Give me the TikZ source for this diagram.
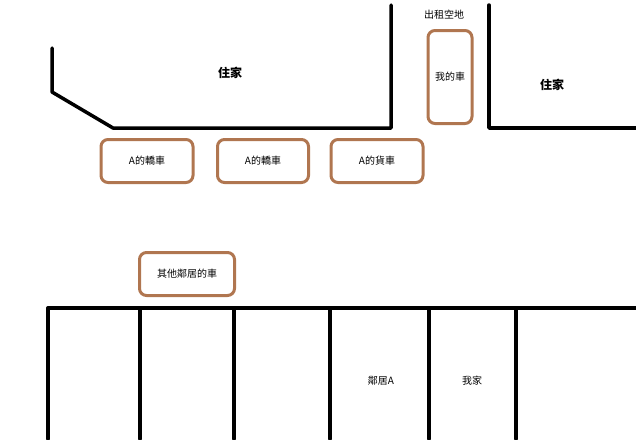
\documentclass[tikz,border=0pt]{standalone}
\usepackage{fontspec}
\setmainfont{Noto Sans CJK TC}
\definecolor{brn}{RGB}{176,118,80}
\begin{document}
\begin{tikzpicture}[x=1pt,y=-1pt,
 wall/.style={line width=3.5pt,line cap=round,line join=round},
 car/.style={draw=brn,line width=3pt,rounded corners=7pt,font=\fontsize{10}{12}\selectfont},
 lbl/.style={font=\fontsize{10}{12}\selectfont}]
\useasboundingbox (0,0) rectangle (636,439);
\draw[wall] (52,48) -- (52,92) -- (113,128) -- (391,128) -- (391,5);
\draw[wall] (489,5) -- (489,128) -- (636,128);
\draw[wall] (48,308) -- (636,308);
\foreach \x in {48,140,234,330,429,516} \draw[wall] (\x,308) -- (\x,439);
\node[font=\bfseries\fontsize{12}{14}\selectfont] (h1) at (230,73) {住家};
\node[font=\bfseries\fontsize{12}{14}\selectfont] (h2) at (552,85) {住家};
\node[lbl] (lot) at (444,15) {出租空地};
\node[car,minimum width=44pt,minimum height=93pt] (my) at (450,77) {我的車};
\node[car,minimum width=92pt,minimum height=43pt] (c1) at (147,161) {A的轎車};
\node[car,minimum width=91pt,minimum height=43pt] (c2) at (263,161) {A的轎車};
\node[car,minimum width=92pt,minimum height=43pt] (c3) at (377,161) {A的貨車};
\node[car,minimum width=95pt,minimum height=43pt] (c4) at (187,274) {其他鄰居的車};
\node[lbl] (na) at (381,381) {鄰居A};
\node[lbl] (mh) at (472,381) {我家};
\end{tikzpicture}
\end{document}
